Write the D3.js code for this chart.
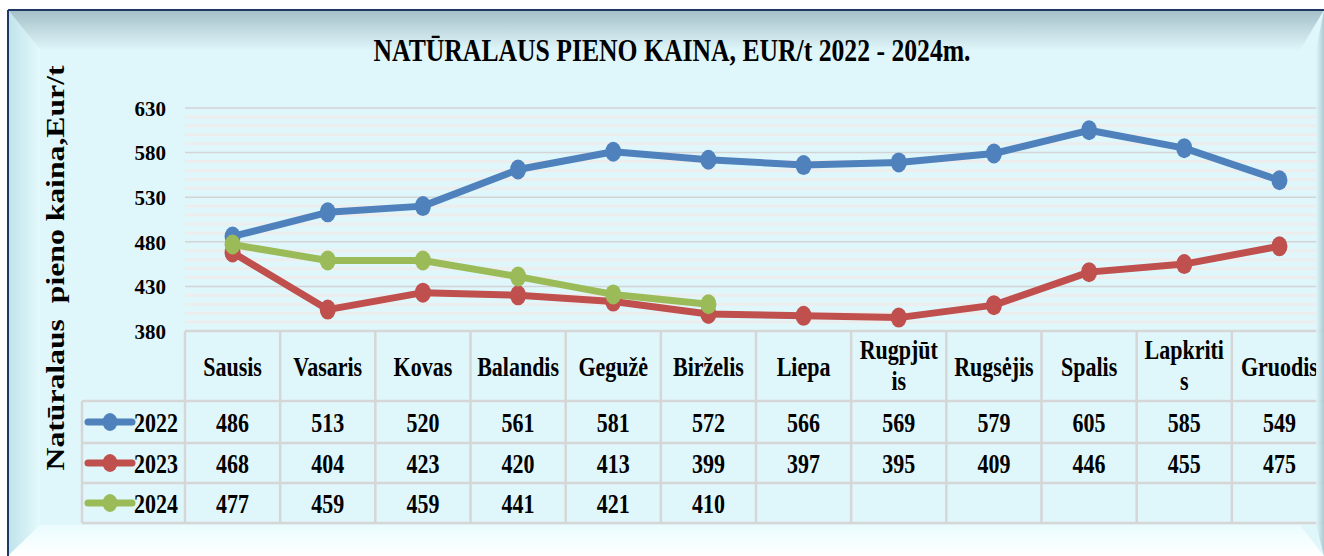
<!DOCTYPE html>
<html>
<head>
<meta charset="utf-8">
<script src="https://cdn.jsdelivr.net/npm/d3@7"></script>
<style>
  html, body { margin: 0; padding: 0; background: #fff; }
</style>
</head>
<body>
<svg id="chart" width="1324" height="556" font-family="Liberation Serif" font-weight="bold"></svg>
<script>
const months = ["Sausis", "Vasaris", "Kovas", "Balandis", "Gegužė", "Birželis",
                "Liepa", "Rugpjūtis", "Rugsėjis", "Spalis", "Lapkritis", "Gruodis"];
// how the long month names wrap in the table header
const monthLines = [["Sausis"], ["Vasaris"], ["Kovas"], ["Balandis"], ["Gegužė"], ["Birželis"],
                    ["Liepa"], ["Rugpjūt", "is"], ["Rugsėjis"], ["Spalis"], ["Lapkriti", "s"], ["Gruodis"]];
const years = ["2022", "2023", "2024"];
const values2022 = [486, 513, 520, 561, 581, 572, 566, 569, 579, 605, 585, 549];
const values2023 = [468, 404, 423, 420, 413, 399, 397, 395, 409, 446, 455, 475];
const values2024 = [477, 459, 459, 441, 421, 410];
const yTicks = [380, 430, 480, 530, 580, 630];

const colors = { "2022": "#4f81bd", "2023": "#c0504d", "2024": "#9bbb59" };
const series = [
    { year: years[0], values: values2022 },
    { year: years[1], values: values2023 },
    { year: years[2], values: values2024 }
];

const FONT = "Liberation Serif";
const svg = d3.select("#chart");
const defs = svg.append("defs");

// the original picture is a little stretched vertically, so text gets a y-scale
function tallText(parent, x, y, sy, size) {
    return parent.append("text")
        .attr("transform", `translate(${x},${y}) scale(1,${sy})`)
        .attr("font-family", FONT).attr("font-weight", "bold")
        .attr("font-size", size).attr("fill", "#000");
}

function linGrad(id, x2, y2, stops) {
    const g = defs.append("linearGradient").attr("id", id)
        .attr("x1", 0).attr("y1", 0).attr("x2", x2).attr("y2", y2);
    stops.forEach(([o, c]) => g.append("stop").attr("offset", o).attr("stop-color", c));
}
linGrad("topBevel", 0, 1, [[0, "#a3bfc8"], [0.5, "#c2dbe1"], [1, "#def5f9"]]);
linGrad("leftBevel", 1, 0, [[0, "#bfe3eb"], [1, "#e4f9fc"]]);
linGrad("bottomBevel", 0, 1, [[0, "#eafcfe"], [1, "#ffffff"]]);
linGrad("rightBevel", 1, 0, [[0, "#dff7fb"], [0.5, "#c4dfe6"], [1, "#a9c6cf"]]);

// frame and bevels
const L = 8, T = 10, R = 1324, B = 556;
const iL = 40, iT = 50, iR = 1300, iB = 525;
svg.append("rect").attr("x", L).attr("y", T).attr("width", R - L).attr("height", B - T)
    .attr("fill", "#dff7fb");
svg.append("polygon").attr("points", [[L, T], [R, T], [iR, iT], [iL, iT]].join(" "))
    .attr("fill", "url(#topBevel)");
svg.append("polygon").attr("points", [[L, T], [iL, iT], [iL, iB], [L, B]].join(" "))
    .attr("fill", "url(#leftBevel)");
svg.append("polygon").attr("points", [[L, B], [iL, iB], [iR, iB], [R, B]].join(" "))
    .attr("fill", "url(#bottomBevel)");
svg.append("rect").attr("x", iL).attr("y", iT).attr("width", iR - iL).attr("height", iB - iT)
    .attr("fill", "#dff7fb");

// scales
const x = d3.scaleBand().domain(months).range([185, 1327]);
const y = d3.scaleLinear().domain([380, 630]).range([331, 108]);
const cx = m => x(m) + x.bandwidth() / 2;

// gridlines
const minorTicks = d3.range(380, 631, 10).filter(v => !yTicks.includes(v));
svg.append("g").selectAll("line").data(minorTicks).join("line")
    .attr("x1", 185).attr("x2", 1320)
    .attr("y1", d => y(d)).attr("y2", d => y(d))
    .attr("stroke", "#ededed").attr("stroke-width", 3);
svg.append("g").selectAll("line").data(yTicks).join("line")
    .attr("x1", 185).attr("x2", 1320)
    .attr("y1", d => y(d)).attr("y2", d => y(d))
    .attr("stroke", "#d4d4d4").attr("stroke-width", 1.5);

// y axis labels
const yAxis = svg.append("g").attr("transform", "translate(172,0)")
    .call(d3.axisLeft(y).tickValues(yTicks).tickSize(0).tickPadding(6));
yAxis.select(".domain").remove();
yAxis.selectAll("text").attr("font-size", 21).attr("fill", "#000")
    .attr("font-family", FONT).attr("font-weight", "bold").attr("dy", "0.35em");

// data table
const rowTop = [331, 401, 443, 483, 523];
const table = svg.append("g").attr("stroke", "#d6d6d6").attr("stroke-width", 2.5).attr("fill", "none");
table.append("line").attr("x1", 185).attr("x2", 1329).attr("y1", rowTop[0]).attr("y2", rowTop[0]);
rowTop.slice(1).forEach(yy =>
    table.append("line").attr("x1", 82).attr("x2", 1329).attr("y1", yy).attr("y2", yy));
table.append("line").attr("x1", 82).attr("x2", 82).attr("y1", rowTop[1]).attr("y2", rowTop[4]);
months.forEach(m =>
    table.append("line").attr("x1", x(m)).attr("x2", x(m)).attr("y1", rowTop[0]).attr("y2", rowTop[4]));

// header labels
const header = svg.append("g");
const SY = 1.25;
months.forEach((m, i) => {
    const lines = monthLines[i];
    const base = lines.length === 1 ? 376 : 359;
    const t = tallText(header, cx(m), base, SY, 22).attr("text-anchor", "middle");
    lines.forEach((ln, j) => t.append("tspan").attr("x", 0).attr("y", j * 31 / SY).text(ln));
});

// value cells and legend keys
series.forEach((s, si) => {
    const yy = (rowTop[si + 1] + rowTop[si + 2]) / 2;
    const g = svg.append("g");
    s.values.forEach((v, i) =>
        tallText(g, cx(months[i]), yy, 1.2, 22).attr("text-anchor", "middle")
            .attr("dy", "0.36em").text(v));
    const lg = svg.append("g");
    lg.append("line").attr("x1", 88).attr("x2", 132).attr("y1", yy).attr("y2", yy)
        .attr("stroke", colors[s.year]).attr("stroke-width", 7).attr("stroke-linecap", "round");
    lg.append("ellipse").attr("cx", 110).attr("cy", yy).attr("rx", 7.5).attr("ry", 9)
        .attr("fill", colors[s.year]);
    tallText(lg, 134, yy, 1.2, 22).attr("dy", "0.36em").text(s.year);
});

// lines and markers
const line = d3.line().x((d, i) => cx(months[i])).y(d => y(d));
series.forEach(s => {
    const g = svg.append("g");
    g.append("path").datum(s.values).attr("d", line)
        .attr("fill", "none").attr("stroke", colors[s.year]).attr("stroke-width", 7)
        .attr("stroke-linejoin", "round");
    g.selectAll("ellipse").data(s.values).join("ellipse")
        .attr("cx", (d, i) => cx(months[i])).attr("cy", d => y(d)).attr("rx", 8).attr("ry", 10)
        .attr("fill", colors[s.year]);
});

// right bevel drawn over the plot edge
svg.append("polygon").attr("points", [[R, T], [R, B], [1316, iB], [1316, iT]].join(" "))
    .attr("fill", "url(#rightBevel)").attr("opacity", 0.9);

// outer border
svg.append("line").attr("x1", L).attr("x2", R).attr("y1", T).attr("y2", T)
    .attr("stroke", "#1f3864").attr("stroke-width", 2);
svg.append("line").attr("x1", L).attr("x2", L).attr("y1", T).attr("y2", B)
    .attr("stroke", "#1f3864").attr("stroke-width", 2);

// titles
tallText(svg, 672, 61, 1.35, 24).attr("text-anchor", "middle")
    .attr("textLength", 597).attr("lengthAdjust", "spacingAndGlyphs")
    .text("NATŪRALAUS PIENO KAINA, EUR/t 2022 - 2024m.");
svg.append("text").attr("transform", "translate(64,268) rotate(-90)")
    .attr("text-anchor", "middle").attr("font-size", 26)
    .attr("font-family", FONT).attr("font-weight", "bold")
    .attr("textLength", 405).attr("lengthAdjust", "spacingAndGlyphs")
    .attr("xml:space", "preserve").text("Natūralaus  pieno kaina,Eur/t");
</script>
</body>
</html>
